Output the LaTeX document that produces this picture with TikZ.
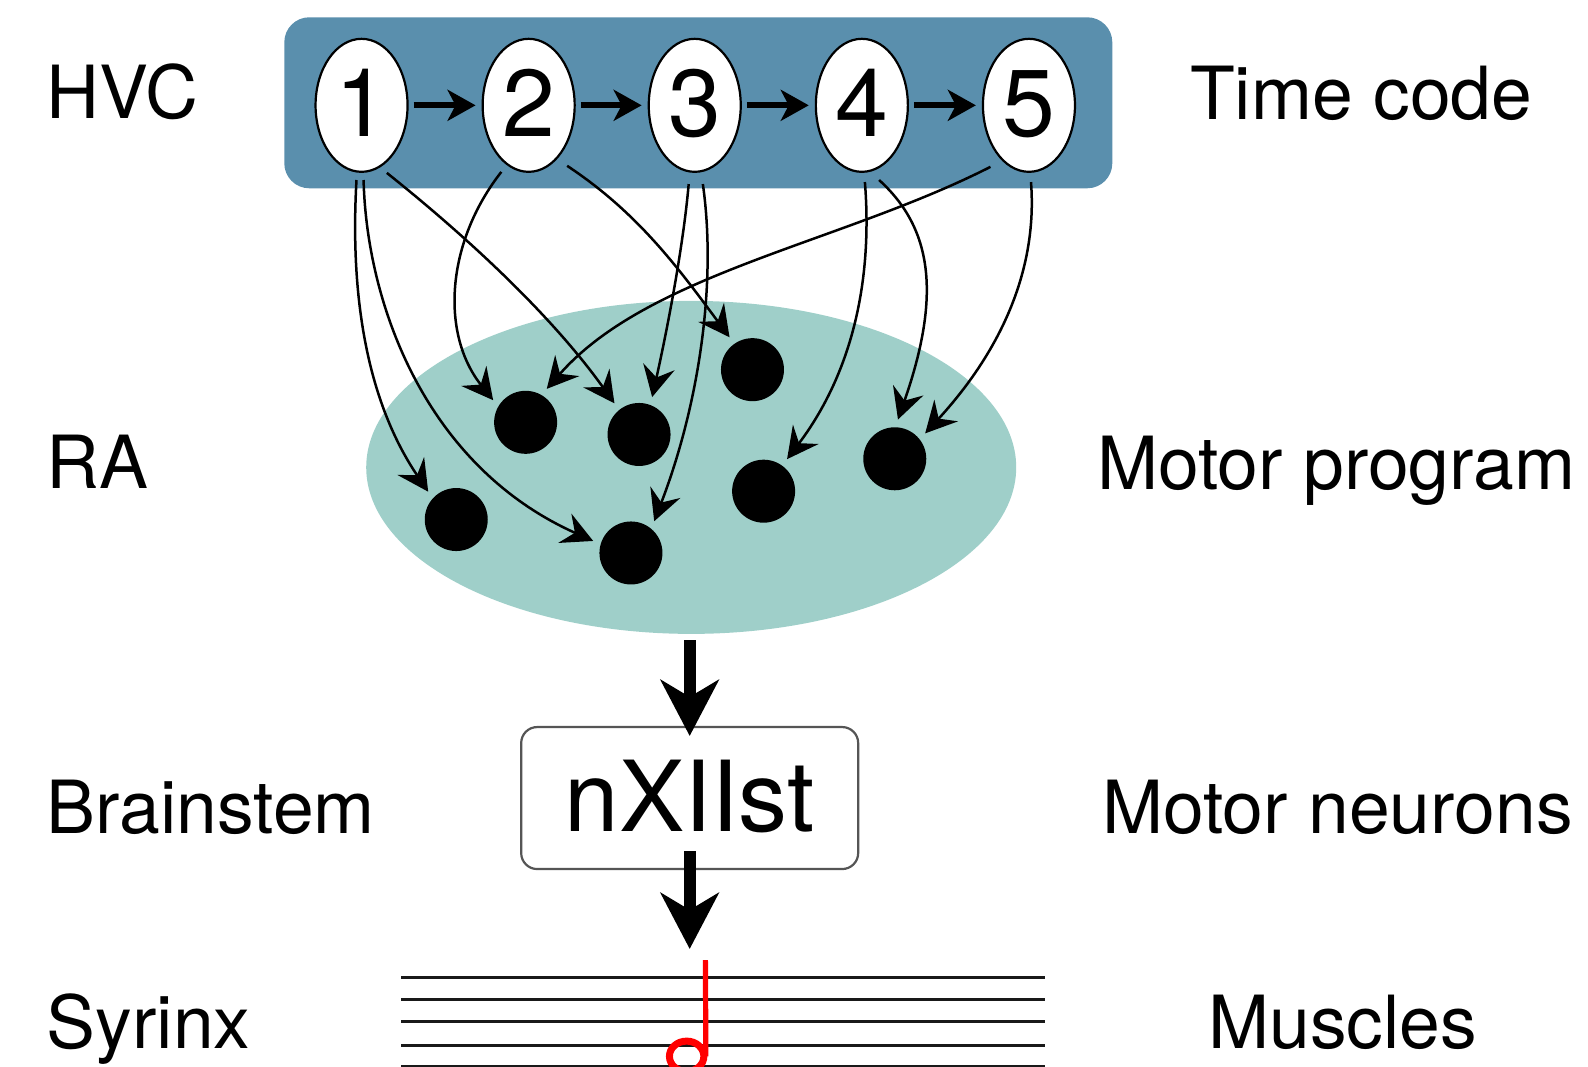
\documentclass[tikz,border=0pt]{standalone}
\usepackage{fontspec}
\setmainfont{TeX Gyre Heros}
\usetikzlibrary{shapes.geometric,arrows.meta}
\definecolor{bandblue}{HTML}{5A8FAD}
\definecolor{rateal}{HTML}{9FCFC9}
\definecolor{boxgray}{HTML}{555555}
\tikzset{
  lab/.style={anchor=base west,inner sep=0pt,font=\fontsize{73.3}{80}\selectfont},
  hvcn/.style={ellipse,draw=black,line width=2.2pt,fill=white,minimum width=92pt,minimum height=133pt,inner sep=0pt,font=\fontsize{95}{100}\selectfont},
  dotn/.style={circle,fill=black,minimum size=63pt,inner sep=0pt},
  seq/.style={line width=6pt,-{Stealth[length=28pt,width=31pt,inset=8pt]},shorten <=5pt,shorten >=6pt},
  conn/.style={line width=2.5pt,-{Stealth[length=31pt,width=32pt,inset=11pt]},shorten >=8pt},
  big/.style={line width=12pt,-{Stealth[length=56pt,width=58pt,inset=17pt]}},
  staffl/.style={line width=2.8pt,black!90}
}
\begin{document}
\begin{tikzpicture}[x=1.01276pt,y=-1.01276pt]
\useasboundingbox (0,0) rectangle (1568,1052.6);
\node[rectangle,rounded corners=25pt,fill=bandblue,minimum width=828pt,minimum height=171pt,inner sep=0pt] (band) at (689.5,101.5) {};
\node[ellipse,fill=rateal,minimum width=650pt,minimum height=333pt,inner sep=0pt] (ra) at (682.5,461.5) {};
\foreach \n/\x in {1/357,2/522,3/686,4/851,5/1016}
  \node[hvcn] (n\n) at (\x,104) {\raisebox{4.5pt}{\n}};
\node[dotn] (da) at (450.5,513) {};
\node[dotn] (db) at (519,417) {};
\node[dotn] (dc) at (631,429) {};
\node[dotn] (dd) at (743,365) {};
\node[dotn] (de) at (754,485) {};
\node[dotn] (df) at (883.5,453) {};
\node[dotn] (dg) at (623,546) {};
\foreach \a/\b in {1/2,2/3,3/4,4/5}
  \draw[seq] (n\a) -- (n\b);
\draw[conn] ([shift={(-5,7)}]n1.south) .. controls (345,300) and (365,400) .. (da.138);
\draw[conn] ([shift={(2,7)}]n1.south) .. controls (362,300) and (420,460) .. (dg.164);
\draw[conn] ([shift={(25,0)}]n1.south) .. controls (450,225) and (540,305) .. (dc.129);
\draw[conn] ([shift={(-27,-1)}]n2.south) .. controls (440,240) and (435,330) .. (db.150);
\draw[conn] ([shift={(38,-7)}]n2.south) .. controls (630,210) and (670,265) .. (dd.125);
\draw[conn] ([shift={(-6,11)}]n3.south) .. controls (675,240) and (660,320) .. (dc.69);
\draw[conn] ([shift={(8,11)}]n3.south) .. controls (708,280) and (690,400) .. (dg.50);
\draw[conn] ([shift={(3,9)}]n4.south) .. controls (862,280) and (840,370) .. (de.54);
\draw[conn] ([shift={(17,7)}]n4.south) .. controls (920,225) and (930,290) .. (df.89);
\draw[conn] ([shift={(-38,-6)}]n5.south) .. controls (830,240) and (640,270) .. (db.60);
\draw[conn] ([shift={(2,9)}]n5.south) .. controls (1025,270) and (985,350) .. (df.38);
\node[rectangle,rounded corners=16pt,draw=boxgray,line width=2.2pt,fill=white,minimum width=337pt,minimum height=142pt,inner sep=0pt,font=\fontsize{98}{100}\selectfont] (nx) at (681,788) {\raisebox{4.5pt}{nXIIst}};
\coordinate (staffc) at (681,937);
\draw[big,shorten <=6pt,shorten >=-10pt] (ra.south -| nx.north) -- (nx.north);
\draw[big,shorten <=-19pt] (nx.south) -- (staffc);
\foreach \k/\y in {a/965,b/987,c/1009,d/1032,e/1052.6}{
  \coordinate (sl\k) at (396,\y);
  \coordinate (sr\k) at (1032,\y);
  \draw[staffl] (sl\k) -- (sr\k);
}
\coordinate (stemtop) at (696.5,948);
\coordinate (stembot) at (697,1043);
\draw[red,line width=5.2pt] (stemtop) -- (stembot);
\coordinate (notehead) at (678,1043);
\draw[red,line width=7pt] (notehead) circle[x radius=17,y radius=15];
\node[lab] (lhvc) at (46,117) {HVC};
\node[lab] (lra) at (46,482) {RA};
\node[lab] (lbs) at (46,823) {Brainstem};
\node[lab] (lsy) at (46,1035) {Syrinx};
\node[lab] (ltc) at (1175,118) {Time code};
\node[lab] (lmp) at (1083,483) {Motor program};
\node[lab] (lmn) at (1088,823) {Motor neurons};
\node[lab] (lmu) at (1193,1035) {Muscles};
\end{tikzpicture}
\end{document}
